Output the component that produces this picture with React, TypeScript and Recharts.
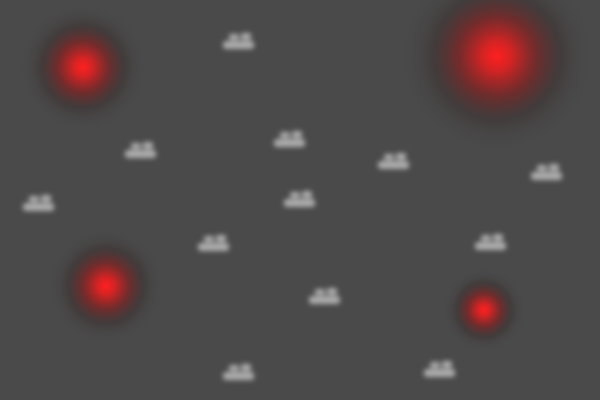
import React from "react";
import { ScatterChart, Scatter, XAxis, YAxis } from "recharts";

const glowX = [83, 497, 106, 484];
const glowY = [67, 56, 286, 310];
const glowR = [64, 98, 58, 42];

const cloudX = [238, 140, 289, 393, 546, 38, 299, 213, 490, 324, 238, 439];
const cloudY = [42, 151, 140, 162, 173, 204, 200, 244, 243, 297, 373, 370];

const glows = glowX.map((x, i) => ({ x, y: glowY[i], r: glowR[i] }));
const clouds = cloudX.map((x, i) => ({ x, y: cloudY[i] }));

const GlowShape = (props: any) => {
  const { cx, cy, payload } = props;
  return <circle cx={cx} cy={cy} r={payload.r} fill="url(#glowGrad)" />;
};

const CloudShape = (props: any) => {
  const { cx, cy } = props;
  return (
    <g transform={`translate(${cx},${cy})`} filter="url(#cloudBlur)" fill="#dcdcdc" opacity={0.68}>
      <rect x={-9} y={-8} width={10} height={6} rx={2} />
      <rect x={3} y={-9} width={10} height={7} rx={2} />
      <rect x={-15} y={-1} width={31} height={8} rx={3} />
    </g>
  );
};

export default function App() {
  return (
    <div style={{ position: "fixed", left: 0, top: 0, width: 600, height: 400, background: "#4a4a4a" }}>
      <ScatterChart width={600} height={400} margin={{ top: 0, right: 0, bottom: 0, left: 0 }}>
        <defs>
          <radialGradient id="glowGrad" cx="50%" cy="50%" r="50%">
            <stop offset="0%" stopColor="#ff2020" stopOpacity={1} />
            <stop offset="15%" stopColor="#d82222" stopOpacity={0.97} />
            <stop offset="40%" stopColor="#7c2424" stopOpacity={0.8} />
            <stop offset="65%" stopColor="#3a2e2e" stopOpacity={0.5} />
            <stop offset="100%" stopColor="#4a4a4a" stopOpacity={0} />
          </radialGradient>
          <filter id="cloudBlur" x="-50%" y="-80%" width="200%" height="260%">
            <feGaussianBlur stdDeviation="2.5" />
          </filter>
        </defs>
        <XAxis type="number" dataKey="x" domain={[0, 600]} hide />
        <YAxis type="number" dataKey="y" domain={[0, 400]} reversed hide />
        <Scatter data={glows} shape={GlowShape} isAnimationActive={false} />
        <Scatter data={clouds} shape={CloudShape} isAnimationActive={false} />
      </ScatterChart>
    </div>
  );
}
